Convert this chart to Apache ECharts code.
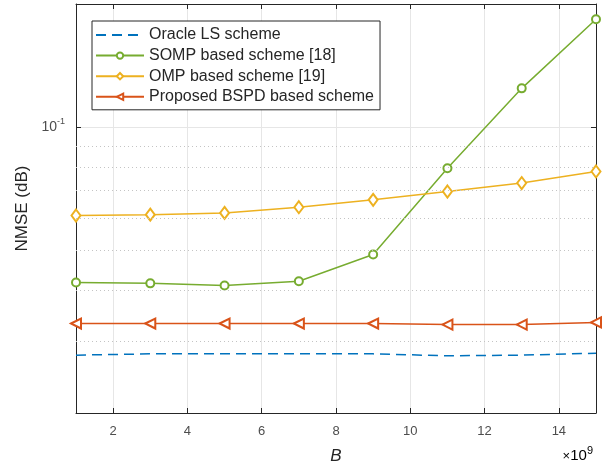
<!DOCTYPE html>
<html>
<head>
<meta charset="utf-8">
<script src="https://cdn.jsdelivr.net/npm/echarts@6/dist/echarts.min.js"></script>
<style>
  html, body { margin: 0; padding: 0; background: #fff; }
  #chart { width: 609px; height: 470px; }
</style>
</head>
<body>
<div id="chart"></div>
<script>
const B = [1, 3, 5, 7, 9, 11, 13, 15]
const oracleLS = [0.0277, 0.0279, 0.0279, 0.0279, 0.0279, 0.0276, 0.0277, 0.0280]
const somp = [0.0417, 0.0415, 0.0410, 0.0420, 0.0488, 0.0793, 0.1244, 0.1836]
const omp = [0.0608, 0.0611, 0.0617, 0.0637, 0.0664, 0.0696, 0.0730, 0.0779]
const proposed = [0.0331, 0.0331, 0.0331, 0.0331, 0.0331, 0.0329, 0.0329, 0.0333]
const minorGrid = [0.03, 0.04, 0.05, 0.06, 0.07, 0.08, 0.09]

const names = ['Oracle LS scheme', 'SOMP based scheme [18]', 'OMP based scheme [19]', 'Proposed BSPD based scheme']
const font = 'Liberation Sans, Arial, Helvetica, sans-serif'
const pairs = ys => B.map((b, i) => [b, ys[i]])

const chart = echarts.init(document.getElementById('chart'))

const axisLine = { show: true, lineStyle: { color: '#262626', width: 1 } }
const tick = { show: true, inside: true, length: 5, lineStyle: { color: '#262626' } }

chart.setOption({
  backgroundColor: '#fff',
  animation: false,
  grid: { left: 76, right: 13, top: 4, bottom: 56 },
  legend: {
    orient: 'vertical',
    left: 92,
    top: 21,
    padding: [6, 6, 5, 3],
    itemWidth: 48,
    itemHeight: 8,
    itemGap: 4.6,
    borderColor: '#262626',
    borderWidth: 1,
    backgroundColor: '#fff',
    textStyle: { fontFamily: font, fontSize: 16, color: '#262626' },
    data: [
      { name: names[0], itemStyle: { opacity: 0 } },
      names[1], names[2], names[3]
    ]
  },
  xAxis: [{
    type: 'value',
    min: 1,
    max: 15,
    splitNumber: 7,
    name: 'B',
    nameLocation: 'middle',
    nameGap: 35,
    nameTextStyle: { fontFamily: font, fontSize: 17, fontStyle: 'italic', color: '#262626' },
    axisLine: axisLine,
    axisTick: tick,
    axisLabel: { showMinLabel: false, showMaxLabel: false, margin: 12, fontFamily: font, fontSize: 13, color: '#4d4d4d' },
    splitLine: { show: true, lineStyle: { color: '#e6e6e6', width: 1 } }
  }, {
    type: 'value',
    position: 'top',
    min: 1,
    max: 15,
    splitNumber: 7,
    axisLine: axisLine,
    axisTick: tick,
    axisLabel: { show: false },
    splitLine: { show: false }
  }],
  yAxis: [{
    type: 'log',
    logBase: 10,
    min: 0.02,
    max: 0.2,
    name: 'NMSE (dB)',
    nameLocation: 'middle',
    nameGap: 43,
    nameTextStyle: { fontFamily: font, fontSize: 17, color: '#262626' },
    axisLine: axisLine,
    axisTick: tick,
    axisLabel: {
      margin: 11,
      formatter: v => Math.abs(v - 0.1) < 1e-9 ? '{b|10}{s|-1}' : '',
      rich: {
        b: { fontFamily: font, fontSize: 14, color: '#4d4d4d', lineHeight: 20 },
        s: { fontFamily: font, fontSize: 9, color: '#4d4d4d', lineHeight: 10, verticalAlign: 'top' }
      }
    },
    splitLine: { show: true, lineStyle: { color: '#e6e6e6', width: 1 } }
  }, {
    type: 'log',
    logBase: 10,
    min: 0.02,
    max: 0.2,
    position: 'right',
    axisLine: axisLine,
    axisTick: tick,
    axisLabel: { show: false },
    splitLine: { show: false }
  }],
  graphic: [{
    type: 'text',
    right: 16,
    top: 445,
    style: {
      text: '{a|×}{b|10}{s|9}',
      rich: {
        a: { fontFamily: font, fontSize: 13, color: '#4d4d4d', lineHeight: 22 },
        b: { fontFamily: font, fontSize: 15, color: '#4d4d4d', lineHeight: 22 },
        s: { fontFamily: font, fontSize: 11, color: '#4d4d4d', lineHeight: 11, verticalAlign: 'top' }
      }
    }
  }],
  series: [
    {
      name: names[0],
      type: 'line',
      data: pairs(oracleLS),
      showSymbol: false,
      symbol: 'none',
      lineStyle: { color: '#0072BD', width: 1.5, type: [10, 6] },
      itemStyle: { color: '#0072BD' },
      markLine: {
        silent: true,
        symbol: 'none',
        label: { show: false },
        lineStyle: { color: '#c4c4c4', width: 1, type: [1, 3] },
        data: minorGrid.map(v => ({ yAxis: v }))
      },
      z: 3
    },
    {
      name: names[1],
      type: 'line',
      data: pairs(somp),
      symbol: 'emptyCircle',
      symbolSize: 8,
      lineStyle: { color: '#77AC30', width: 1.5 },
      itemStyle: { color: '#77AC30', borderWidth: 1.5 },
      z: 4
    },
    {
      name: names[2],
      type: 'line',
      data: pairs(omp),
      symbol: 'emptyDiamond',
      symbolSize: [9, 12],
      lineStyle: { color: '#EDB120', width: 1.5 },
      itemStyle: { color: '#EDB120', borderWidth: 1.5 },
      z: 4
    },
    {
      name: names[3],
      type: 'line',
      data: pairs(proposed),
      symbol: 'emptyTriangle',
      symbolRotate: 90,
      symbolSize: 10,
      lineStyle: { color: '#D95319', width: 1.5 },
      itemStyle: { color: '#D95319', borderWidth: 1.5 },
      z: 4
    }
  ]
})
</script>
</body>
</html>
